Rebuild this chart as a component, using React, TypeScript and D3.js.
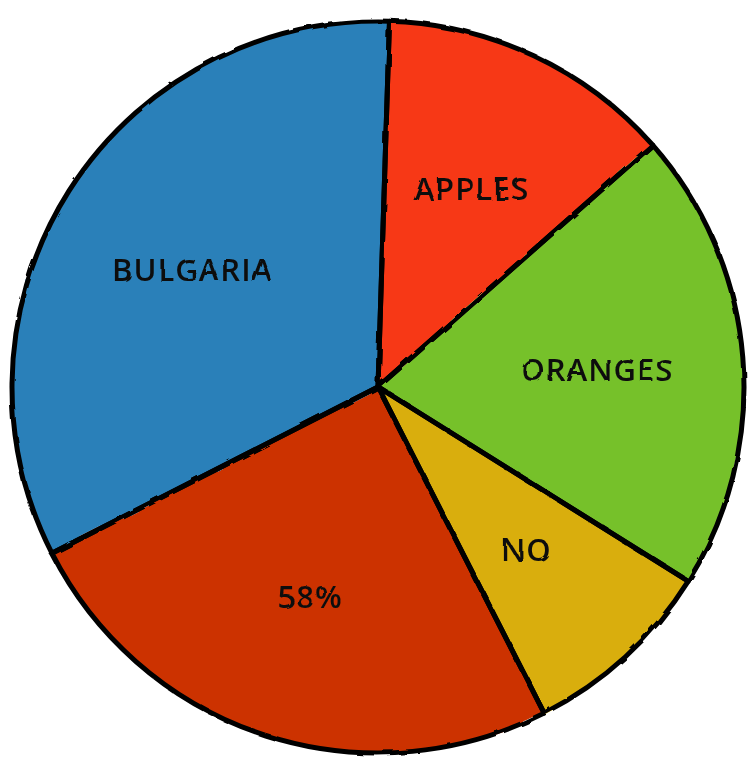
import React from "react";
import * as d3 from "d3";

const labels = ["APPLES", "ORANGES", "NO", "58%", "BULGARIA"];
const values = [13, 20.4, 8.6, 25, 33];
const colors = ["#f73812", "#76c12b", "#d9ae0b", "#cc3300", "#2b80b9"];

const W = 755;
const H = 759;
const cx = 378;
const cy = 387;
const R = 366;
const start = (1.8 * Math.PI) / 180;

export default function App() {
  const data = labels.map((l, i) => ({ label: l, value: values[i], color: colors[i] }));
  const pie = d3
    .pie<any>()
    .sort(null)
    .value((d) => d.value)
    .startAngle(start)
    .endAngle(start + 2 * Math.PI);
  const arcs = pie(data);
  const arc = d3.arc<any>().innerRadius(0).outerRadius(R);
  const labelArc = d3.arc<any>().innerRadius(R * 0.6).outerRadius(R * 0.6);

  return (
    <svg
      width={W}
      height={H}
      style={{ position: "absolute", left: 0, top: 0, background: "#fff" }}
    >
      <defs>
        <filter id="rough" x="-5%" y="-5%" width="110%" height="110%">
          <feTurbulence type="fractalNoise" baseFrequency="0.03" numOctaves="2" seed="3" />
          <feDisplacementMap in="SourceGraphic" scale="6" />
        </filter>
        <filter id="rough2" x="-5%" y="-5%" width="110%" height="110%">
          <feTurbulence type="fractalNoise" baseFrequency="0.05" numOctaves="2" seed="7" />
          <feDisplacementMap in="SourceGraphic" scale="3" />
        </filter>
      </defs>
      <g transform={`translate(${cx},${cy})`}>
        <g filter="url(#rough)">
          {arcs.map((a, i) => (
            <path key={i} d={arc(a) || ""} fill={a.data.color} stroke="none" />
          ))}
        </g>
        <g filter="url(#rough2)">
          {arcs.map((a, i) => (
            <path
              key={"s" + i}
              d={arc(a) || ""}
              fill="none"
              stroke="#000"
              strokeWidth={5}
              strokeLinejoin="round"
            />
          ))}
        </g>
        <g filter="url(#rough2)">
          {arcs.map((a, i) => {
            const [x, y] = labelArc.centroid(a);
            return (
              <text
                key={"t" + i}
                x={x}
                y={y}
                textAnchor="middle"
                dominantBaseline="central"
                fontFamily="'Open Sans', 'DejaVu Sans', sans-serif"
                fontSize={31}
                fontWeight={600}
                fill="#111"
                letterSpacing={1}
              >
                {a.data.label}
              </text>
            );
          })}
        </g>
      </g>
    </svg>
  );
}
